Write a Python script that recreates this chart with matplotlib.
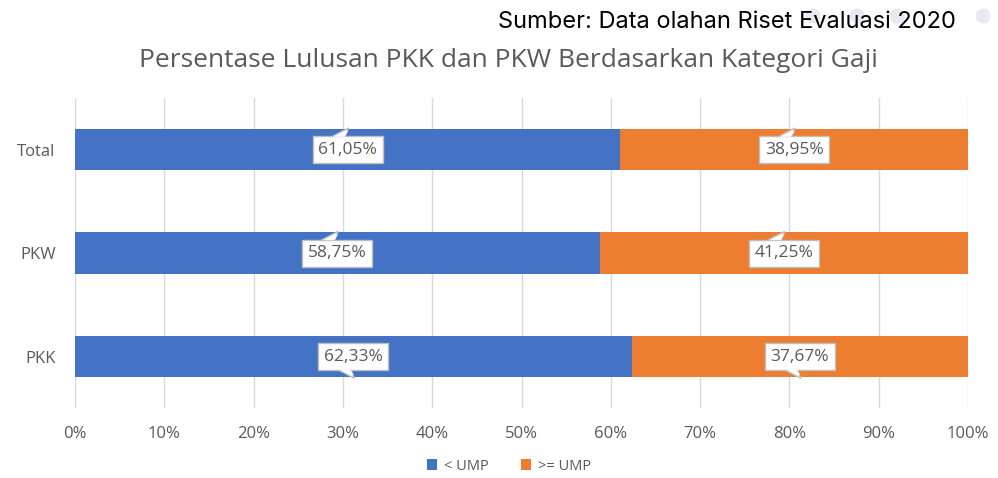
import matplotlib
matplotlib.use("Agg")
import matplotlib.pyplot as plt
from matplotlib.patches import Polygon, Ellipse
import numpy as np

categories = ["PKK", "PKW", "Total"]
below_ump = [62.33, 58.75, 61.05]
above_ump = [37.67, 41.25, 38.95]
series_names = ["< UMP", ">= UMP"]
colors = ["#4472C4", "#ED7D31"]
xticks = [0, 10, 20, 30, 40, 50, 60, 70, 80, 90, 100]

plt.rcParams['font.family'] = ['Open Sans', 'DejaVu Sans']

W, H = 998, 478
fig = plt.figure(figsize=(W / 100, H / 100), dpi=100)

# decorative dots behind the source note
for xd in [813, 857, 897, 983]:
    fig.add_artist(Ellipse((xd / W, 1 - 16 / H), 15 / W, 15 / H, transform=fig.transFigure,
                           facecolor="#E9E9F4", edgecolor='none', zorder=0))

ax = fig.add_axes([0.0752, 0.146, 0.8948, 0.649])
ax.patch.set_alpha(0)

y = np.arange(len(categories))
h = 0.4
ax.barh(y, below_ump, height=h, color=colors[0], label=series_names[0], zorder=2)
ax.barh(y, above_ump, left=below_ump, height=h, color=colors[1], label=series_names[1], zorder=2)

ax.set_xlim(0, 100)
ax.set_ylim(-0.5, 2.5)
ax.set_xticks(xticks)
ax.set_xticklabels([f"{t}%" for t in xticks], fontsize=12, color="#595959")
ax.set_yticks(y)
ax.set_yticklabels(categories, fontsize=12, color="#595959")
ax.tick_params(axis='x', length=0, pad=13)
ax.tick_params(axis='y', length=0, pad=14)
ax.grid(axis='x', color="#D9D9D9", linewidth=1, zorder=0)
for s in ax.spines.values():
    s.set_visible(False)

def label(xc, yc, txt, up):
    ax.text(xc, yc, txt, ha='center', va='center', fontsize=12.5, color="#595959", zorder=5,
            bbox=dict(boxstyle='square,pad=0.32', facecolor='white', edgecolor='#BFBFBF', linewidth=1))
    bh = 0.125
    if up:
        tip_y = yc + h / 2 + 0.01
        base_y = yc + bh
    else:
        tip_y = yc - h / 2 - 0.01
        base_y = yc - bh
    tail = Polygon([[xc - 1.8, base_y], [xc - 0.3, base_y], [xc + 0.1, tip_y]], closed=True,
                   facecolor='white', edgecolor='#BFBFBF', linewidth=1, zorder=4)
    ax.add_patch(tail)
    cover = Polygon([[xc - 1.7, base_y], [xc - 0.35, base_y],
                     [xc + 0.05, tip_y - (0.03 if up else -0.03)]], closed=True,
                    facecolor='white', edgecolor='none', zorder=6)
    ax.add_patch(cover)

ups = [False, True, True]
for i in range(len(categories)):
    label(below_ump[i] / 2, y[i], f"{below_ump[i]:.2f}%".replace('.', ','), ups[i])
    label(below_ump[i] + above_ump[i] / 2, y[i], f"{above_ump[i]:.2f}%".replace('.', ','), ups[i])

fig.text(0.509, 0.873, "Persentase Lulusan PKK dan PKW Berdasarkan Kategori Gaji", ha='center', va='center',
         fontsize=19, color="#595959")
fig.text(0.958, 0.955, "Sumber: Data olahan Riset Evaluasi 2020", ha='right', va='center',
         fontsize=17, color="black", family=['Inter', 'DejaVu Sans'], zorder=3)

fig.legend(loc='center', bbox_to_anchor=(0.51, 0.025), ncol=2, frameon=False, fontsize=10.5,
           handlelength=0.7, handleheight=0.7, columnspacing=2.2, handletextpad=0.5,
           labelcolor="#595959")

fig.savefig("out.png", dpi=100)
